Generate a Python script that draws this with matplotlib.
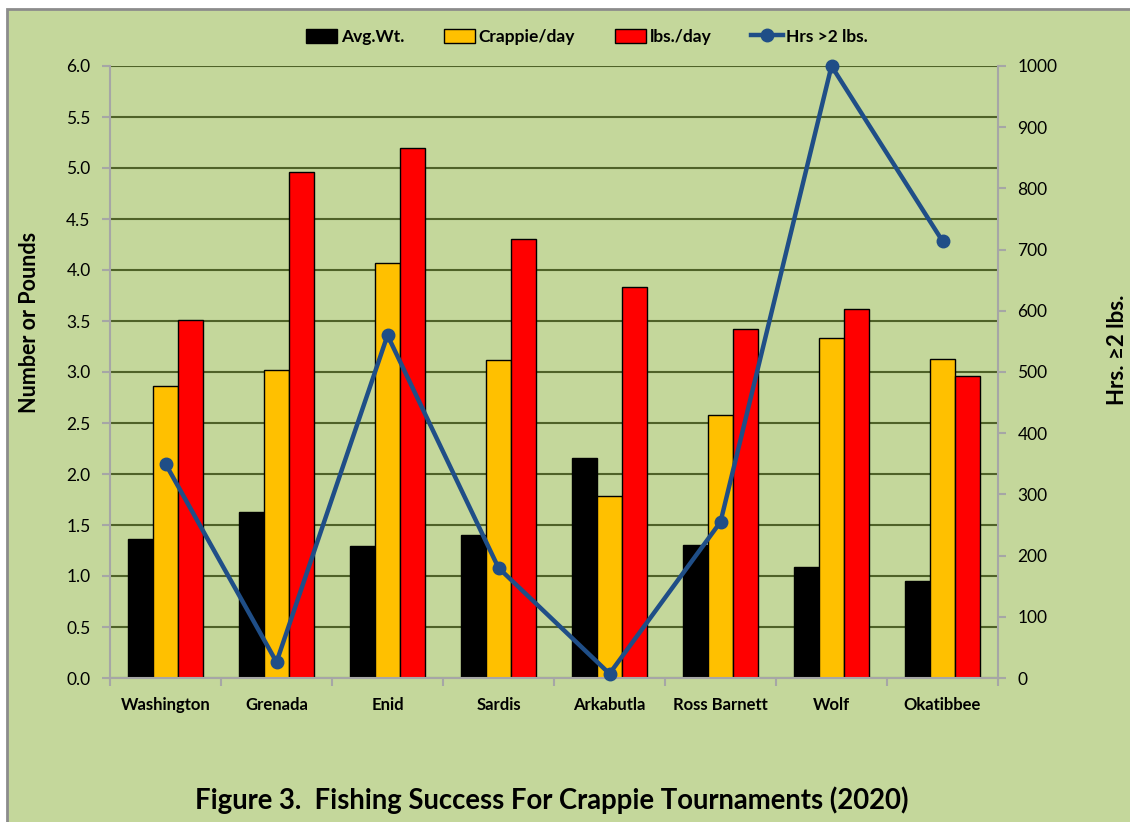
import matplotlib.pyplot as plt
import numpy as np
from matplotlib.patches import Rectangle, Patch
from matplotlib.lines import Line2D

plt.rcParams['font.family'] = ['Lato', 'DejaVu Sans']

lakes = ["Washington", "Grenada", "Enid", "Sardis", "Arkabutla", "Ross Barnett", "Wolf", "Okatibbee"]
avg_wt = [1.36, 1.63, 1.29, 1.40, 2.16, 1.30, 1.09, 0.95]
crappie_day = [2.86, 3.02, 4.07, 3.12, 1.78, 2.58, 3.33, 3.13]
lbs_day = [3.51, 4.96, 5.20, 4.30, 3.83, 3.42, 3.62, 2.96]
hrs_2lbs = [350, 26, 560, 180, 7, 255, 1000, 714]

W, H = 1130, 822
fig = plt.figure(figsize=(W / 100, H / 100), dpi=100)
fig.patch.set_facecolor('white')
bg = Rectangle((7 / W, -0.02), 1.1, 1 - 9 / H + 0.02, transform=fig.transFigure,
               facecolor='#C4D79B', edgecolor='#8C8C8C', lw=2, zorder=-10)
fig.patches.append(bg)

ax = fig.add_axes([110 / W, 1 - 678 / H, 888 / W, 612 / H])
ax.set_facecolor('none')
x = np.arange(len(lakes))
w = 0.225
ax.bar(x - w, avg_wt, w, color='black', edgecolor='black', lw=1, zorder=2)
ax.bar(x, crappie_day, w, color='#FFC000', edgecolor='black', lw=1, zorder=2)
ax.bar(x + w, lbs_day, w, color='#FF0000', edgecolor='black', lw=1, zorder=2)
ax.set_xlim(-0.5, len(lakes) - 0.5)
ax.set_ylim(0, 6)
ax.set_yticks(np.arange(0, 6.01, 0.5))
ax.set_yticklabels([f"{v:.1f}" for v in np.arange(0, 6.01, 0.5)], fontsize=12.5)
ax.yaxis.grid(True, color='#4F6228', lw=1.5, zorder=0)
ax.set_axisbelow(True)
ax.set_xticks(x)
ax.set_xticklabels(lakes, fontsize=12, fontweight='bold')
ax.set_xticks(np.arange(-0.5, len(lakes), 1), minor=True)
ax.tick_params(axis='x', which='major', length=0, pad=14)
ax.tick_params(axis='x', which='minor', length=6, color='#A6A6A6', width=1.5)
ax.tick_params(axis='y', length=6, color='#A6A6A6', width=1.5, pad=8)
for s in ['top', 'right']:
    ax.spines[s].set_visible(False)
for s in ['left', 'bottom']:
    ax.spines[s].set_color('#A6A6A6')
    ax.spines[s].set_linewidth(1.5)

ax2 = ax.twinx()
ax2.set_facecolor('none')
ax2.plot(x, hrs_2lbs, color='#1F4E87', lw=3.2, marker='o', ms=9, zorder=3, clip_on=False)
ax2.set_ylim(0, 1000)
ax2.set_yticks(np.arange(0, 1001, 100))
ax2.tick_params(axis='y', length=6, color='#A6A6A6', width=1.5, pad=8, labelsize=12.5)
for s in ['top', 'left', 'bottom']:
    ax2.spines[s].set_visible(False)
ax2.spines['right'].set_color('#A6A6A6')
ax2.spines['right'].set_linewidth(1.5)

handles = [Patch(facecolor='black', edgecolor='black'),
           Patch(facecolor='#FFC000', edgecolor='black'),
           Patch(facecolor='#FF0000', edgecolor='black'),
           Line2D([], [], color='#1F4E87', lw=3.2, marker='o', ms=9)]
labels = ["Avg.Wt.", "Crappie/day", "lbs./day", "Hrs >2 lbs."]
fig.legend(handles, labels, loc='center', bbox_to_anchor=(587 / W, 1 - 37 / H), ncol=4,
           frameon=False, prop={'weight': 'bold', 'size': 12.5}, handlelength=1.8,
           handleheight=0.9, handletextpad=0.2, columnspacing=2.3)

fig.text(30 / W, 1 - 322 / H, "Number or Pounds", rotation=90, ha='center', va='center',
         fontsize=15.5, fontweight='bold')
fig.text(1117 / W, 1 - 350 / H, "Hrs. \u22652 lbs.", rotation=90, ha='center', va='center',
         fontsize=16, fontweight='bold')
fig.text(552 / W, 1 - 800 / H, "Figure 3.  Fishing Success For Crappie Tournaments (2020)",
         ha='center', va='center', fontsize=19.8, fontweight='bold')

fig.savefig('out.png', dpi=100)
